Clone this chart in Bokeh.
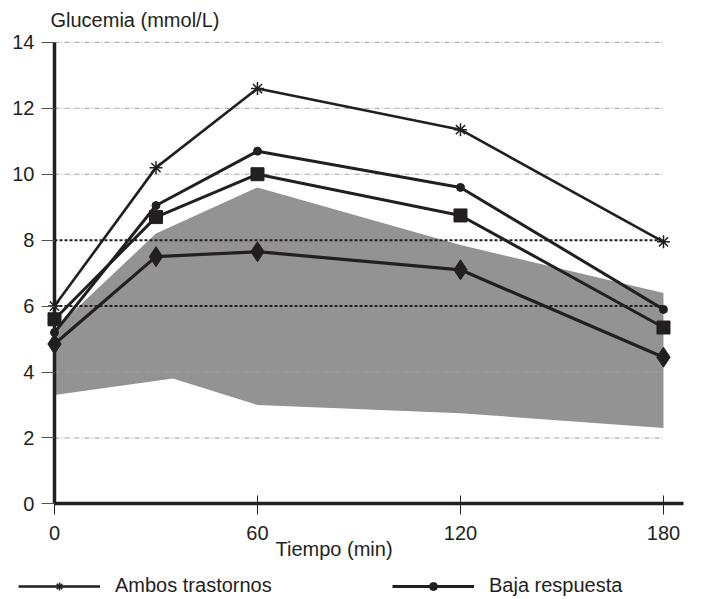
from bokeh.plotting import figure
from bokeh.models import Range1d, FixedTicker, Legend, LegendItem, Label
from bokeh.embed import file_html
from bokeh.resources import INLINE

# ---- data ----
time_min = [0, 30, 60, 120, 180]
ambos = [6.0, 10.2, 12.6, 11.35, 7.95]          # Ambos trastornos (asterisk)
baja = [5.2, 9.05, 10.7, 9.6, 5.9]               # Baja respuesta (dot)
serie_cuadro = [5.6, 8.7, 10.0, 8.75, 5.35]      # square markers
serie_rombo = [4.85, 7.5, 7.65, 7.1, 4.45]       # diamond markers

banda_sup_t = [0, 30, 60, 120, 180]
banda_sup = [5.3, 8.2, 9.6, 7.85, 6.4]
banda_inf_t = [0, 35, 60, 120, 180]
banda_inf = [3.3, 3.8, 3.0, 2.75, 2.3]

y_ticks = [0, 2, 4, 6, 8, 10, 12, 14]
x_ticks = [0, 60, 120, 180]
grid_faint = [2, 4, 10, 12, 14]
ref_lines = [6, 8]

FONT = "Liberation Sans"
INK = "#231f20"

p = figure(width=710, height=599,
           x_range=Range1d(-15.96, 193.9), y_range=Range1d(-2.9, 15.27),
           output_backend="svg", toolbar_location=None, min_border=0)
p.outline_line_color = None
p.xgrid.visible = False
p.ygrid.visible = False
p.background_fill_color = "white"

# band
band_x = banda_sup_t + banda_inf_t[::-1]
band_y = banda_sup + banda_inf[::-1]
p.patch(band_x, band_y, fill_color="#939393", line_color=None)

# grid lines
n = len(grid_faint)
p.segment(x0=[time_min[0]] * n, x1=[time_min[-1]] * n, y0=grid_faint, y1=grid_faint,
          line_color="#a0a0a0", line_width=1, line_dash="5 2 1 2")
m = len(ref_lines)
p.segment(x0=[time_min[0]] * m, x1=[time_min[-1]] * m, y0=ref_lines, y1=ref_lines,
          line_color=INK, line_width=2, line_dash="3 2")

# series
l_ambos = p.line(time_min, ambos, line_color=INK, line_width=2.6)
s_ambos = p.scatter(time_min, ambos, marker="asterisk", size=13, line_color=INK, line_width=1.5)
l_baja = p.line(time_min, baja, line_color=INK, line_width=3)
s_baja = p.scatter(time_min, baja, marker="circle", size=8, fill_color=INK, line_color=INK)
p.line(time_min, serie_cuadro, line_color=INK, line_width=3)
p.scatter(time_min, serie_cuadro, marker="square", size=13, fill_color=INK, line_color=INK)
p.line(time_min, serie_rombo, line_color=INK, line_width=3.2)
p.scatter(time_min, serie_rombo, marker="diamond", size=20, fill_color=INK, line_color=INK)

# axes
for ax in (p.xaxis[0], p.yaxis[0]):
    ax.axis_line_width = 3.5
    ax.axis_line_color = INK
    ax.major_label_text_font = FONT
    ax.major_label_text_font_size = "20px"
    ax.major_label_text_color = INK
    ax.minor_tick_line_color = None
    ax.fixed_location = 0

p.yaxis.bounds = (0, 14)
p.yaxis.ticker = FixedTicker(ticks=y_ticks)
p.yaxis.major_tick_in = 0
p.yaxis.major_tick_out = 13
p.yaxis.major_tick_line_color = "#555555"
p.yaxis.major_label_standoff = 7

p.xaxis.bounds = (0, 186)
p.xaxis.ticker = FixedTicker(ticks=x_ticks)
p.xaxis.major_tick_in = 8
p.xaxis.major_tick_out = 11
p.xaxis.major_tick_line_color = INK
p.xaxis.major_label_standoff = 11

# titles as labels
p.add_layout(Label(x=0, y=14, x_offset=-4, y_offset=22, text="Glucemia (mmol/L)",
                   text_font=FONT, text_font_size="20px", text_color=INK,
                   text_baseline="alphabetic"))
p.add_layout(Label(x=0, y=0, x_offset=221, y_offset=-45, text="Tiempo (min)",
                   text_font=FONT, text_font_size="20px", text_color=INK,
                   text_baseline="alphabetic"))

legend = Legend(items=[LegendItem(label="Ambos trastornos", renderers=[l_ambos, s_ambos]),
                       LegendItem(label="Baja respuesta", renderers=[l_baja, s_baja])],
                orientation="horizontal", location=(18, 2),
                glyph_width=82, glyph_height=20, label_standoff=15, label_width=165,
                spacing=112, padding=0, margin=0,
                label_text_font=FONT, label_text_font_size="20px", label_text_color=INK,
                border_line_color=None, background_fill_alpha=0)
p.add_layout(legend, "center")

open("out.html", "w").write(file_html(p, INLINE))
